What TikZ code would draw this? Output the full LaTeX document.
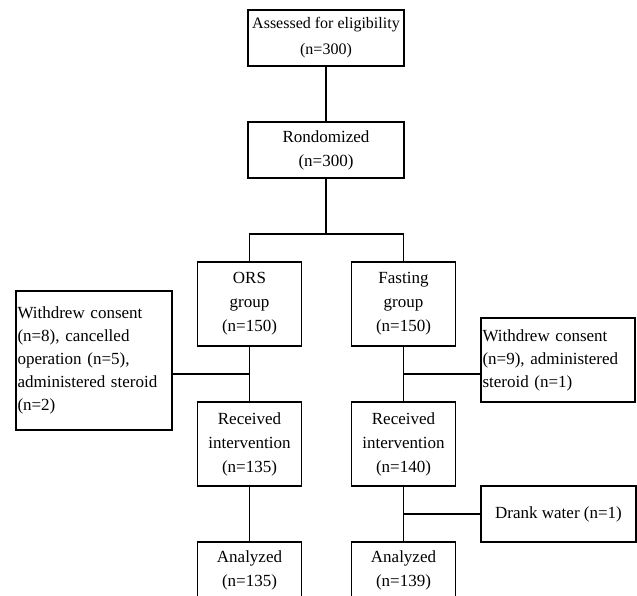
\documentclass[tikz,border=0pt]{standalone}
\usepackage{fontspec}
\setmainfont{Liberation Serif}
\usetikzlibrary{positioning}

\begin{document}
\begin{tikzpicture}[x=1pt,y=-1pt,line width=1.8pt,
        box/.style={draw,align=center,inner xsep=1pt,minimum width=#1},
        box/.default=104pt,
        side/.style={draw,align=left,inner xsep=1.5pt,text width=#1,font=\fontsize{17}{23}\selectfont},
        every node/.style={font=\fontsize{17}{24}\selectfont}]
        \clip (0,0) rectangle (637,596);
        % main column
        \node (assess) [box=156pt,minimum height=56pt,font=\fontsize{16}{26}\selectfont] at (326,38) {Assessed for eligibility\\(n=300)};
        \node (rand) [box=156pt,minimum height=56pt] at (326,150) {Rondomized\\(n=300)};
        \coordinate (split) at (326,234);
        % the two arms
        \node (ors) [box,minimum height=84pt] at (249.5,304) {ORS\\group\\(n=150)};
        \node (fast) [box,minimum height=84pt] at (403.5,304) {Fasting\\group\\(n=150)};
        \node (recL) [box,minimum height=84pt] at (249.5,444) {Received\\intervention\\(n=135)};
        \node (recR) [box,minimum height=84pt] at (403.5,444) {Received\\intervention\\(n=140)};
        \node (anL) [box,minimum height=56pt] at (249.5,570) {Analyzed\\(n=135)};
        \node (anR) [box,minimum height=56pt] at (403.5,570) {Analyzed\\(n=139)};
        % exclusions
        \node (wdL) [side=153pt,minimum height=139pt] at (94,360.5) {Withdrew consent\\(n=8), cancelled\\operation (n=5),\\administered steroid\\(n=2)};
        \node (wdR) [side=151pt,minimum height=84pt] at (558,360) {Withdrew consent\\(n=9), administered\\steroid (n=1)};
        \node (drank) [box=155pt,minimum height=56pt] at (558.5,514) {Drank water (n=1)};
        \coordinate (jL) at (249.5,374);
        \coordinate (jR) at (403.5,374);
        % connectors
        \draw (assess) -- (rand);
        \draw (rand) -- (split);
        \draw (ors.north) |- (split) -| (fast.north);
        \draw (ors) -- (recL);
        \draw (fast) -- (recR);
        \draw (recL) -- (anL);
        \draw (recR) -- (anR);
        \draw (wdL.east |- jL) -- (jL);
        \draw (jR) -- (jR -| wdR.west);
        \draw (recR.south |- drank.west) -- (drank.west);
\end{tikzpicture}
\end{document}
